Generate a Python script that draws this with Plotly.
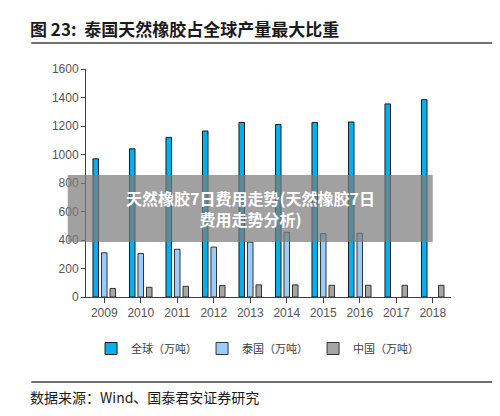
import plotly.graph_objects as go

anos = ["2009", "2010", "2011", "2012", "2013", "2014", "2015", "2016", "2017", "2018"]
global_prod = [970, 1040, 1120, 1165, 1225, 1210, 1225, 1228, 1355, 1385]
tailandia = [310, 305, 335, 350, 385, 455, 445, 448, None, None]
china = [60, 68, 75, 80, 85, 85, 82, 82, 82, 82]

W, H = 500, 416
TOP, BOT = 61, 289
PH = BOT - TOP


def py(pix):
    # converte pixel vertical da página para coordenada paper
    return (BOT - pix) / PH


fig = go.Figure()
fig.add_trace(go.Bar(x=anos, y=global_prod, name="全球（万吨）", marker=dict(color="#00B0F0", line=dict(color="#1a1a1a", width=1))))
fig.add_trace(go.Bar(x=anos, y=tailandia, name="泰国（万吨）", marker=dict(color="#99CCFF", line=dict(color="#333333", width=1))))
fig.add_trace(go.Bar(x=anos, y=china, name="中国（万吨）", marker=dict(color="#A6A6A6", line=dict(color="#333333", width=1))))

fig.update_layout(
    width=W, height=H,
    margin=dict(l=78, r=57, t=TOP, b=H - BOT),
    paper_bgcolor="white", plot_bgcolor="white",
    barmode="group", bargap=0.3, bargroupgap=0.35,
    font=dict(family="Noto Sans CJK SC", size=12, color="#404040"),
    showlegend=True,
    legend=dict(orientation="h", x=0.47, xanchor="center", y=py(326), yanchor="top",
                font=dict(size=11), itemwidth=30, tracegroupgap=0),
    xaxis=dict(showline=True, linecolor="#404040", ticks="outside", tickcolor="#404040",
               ticklen=5, tickfont=dict(family="Arial", size=12, color="#555555")),
    yaxis=dict(range=[0, 1600], dtick=200, showgrid=False, showline=True, linecolor="#404040",
               ticks="outside", tickcolor="#404040", ticklen=4,
               tickfont=dict(family="Arial", size=12, color="#555555")),
)

fig.add_annotation(text="<b>图 23:  泰国天然橡胶占全球产量最大比重</b>", xref="paper", yref="paper",
                   x=-0.16, y=py(21), xanchor="left", yanchor="middle", showarrow=False,
                   font=dict(family="Noto Sans CJK SC", size=17, color="#1a1a1a"))
fig.add_shape(type="line", xref="paper", yref="paper", x0=-0.15, x1=1.12, y0=py(35), y1=py(35),
              line=dict(color="#404040", width=1.5))
fig.add_shape(type="line", xref="paper", yref="paper", x0=-0.15, x1=1.12, y0=py(374), y1=py(374),
              line=dict(color="#404040", width=1.5))
fig.add_annotation(text="数据来源：Wind、国泰君安证券研究", xref="paper", yref="paper",
                   x=-0.16, y=py(389), xanchor="left", yanchor="middle", showarrow=False,
                   font=dict(family="Noto Sans CJK SC", size=14, color="#1a1a1a"))

# faixa cinza sobreposta
fig.add_shape(type="rect", xref="paper", yref="paper", x0=-0.05, x1=0.95,
              y0=py(234), y1=py(167), fillcolor="rgba(125,125,125,0.72)", line=dict(width=0))
fig.add_annotation(text="<b>天然橡胶7日费用走势(天然橡胶7日<br>费用走势分析)</b>", xref="paper", yref="paper",
                   x=0.45, y=py(200), showarrow=False, align="center",
                   font=dict(family="Noto Sans CJK SC", size=16, color="white"))

fig.write_html("out.html")
